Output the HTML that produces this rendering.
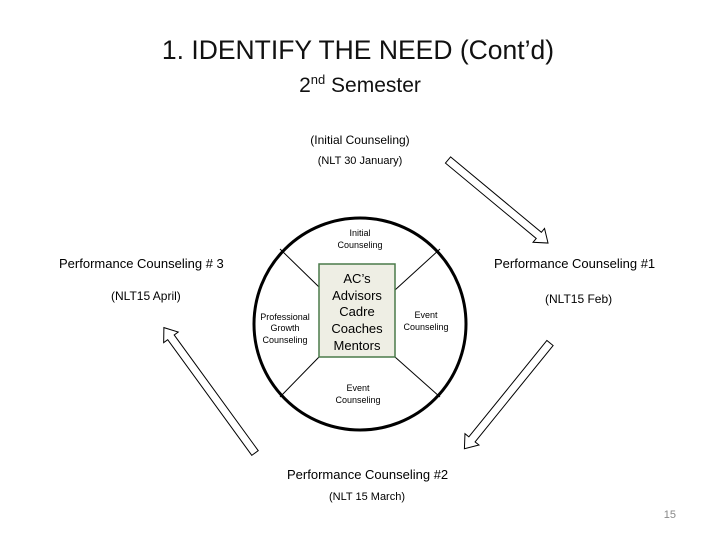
<!DOCTYPE html>
<html><head><style>
body{margin:0;background:#fff;}
svg{display:block;}
</style></head><body>
<svg width="720" height="540" xmlns="http://www.w3.org/2000/svg" font-family="Liberation Sans, sans-serif">
<rect width="720" height="540" fill="#fff"/>
<text x="358" y="59" font-size="26.5" text-anchor="middle" fill="#111">1. IDENTIFY THE NEED (Cont’d)</text>
<text x="360" y="92" font-size="21" text-anchor="middle" fill="#111">2<tspan font-size="13" dy="-8">nd</tspan><tspan dy="8"> Semester</tspan></text>
<text x="360" y="144" font-size="12" text-anchor="middle">(Initial Counseling)</text>
<text x="360" y="164" font-size="11" text-anchor="middle">(NLT 30 January)</text>
<text x="59" y="268" font-size="13">Performance Counseling # 3</text>
<text x="111" y="300" font-size="12">(NLT15 April)</text>
<text x="494" y="268" font-size="13">Performance Counseling #1</text>
<text x="545" y="303" font-size="12">(NLT15 Feb)</text>
<text x="287" y="479" font-size="13">Performance Counseling #2</text>
<text x="329" y="500" font-size="11">(NLT 15 March)</text>
<text x="676" y="518" font-size="11" fill="#888" text-anchor="end">15</text>
<circle cx="360" cy="324" r="106" fill="#fff" stroke="#000" stroke-width="3"/>
<g stroke="#000" stroke-width="1">
<line x1="280" y1="249" x2="319" y2="287"/>
<line x1="440" y1="249" x2="395" y2="290"/>
<line x1="280" y1="397" x2="319" y2="357"/>
<line x1="440" y1="397" x2="395" y2="357"/>
</g>
<rect x="319" y="264" width="76" height="93" fill="#eeeee4" stroke="#4a7a4a" stroke-width="1.5"/>
<g font-size="13" text-anchor="middle">
<text x="357" y="283">AC’s</text>
<text x="357" y="300">Advisors</text>
<text x="357" y="316">Cadre</text>
<text x="357" y="333">Coaches</text>
<text x="357" y="350">Mentors</text>
</g>
<g font-size="9" text-anchor="middle">
<text x="360" y="236">Initial</text>
<text x="360" y="248">Counseling</text>
<text x="285" y="320">Professional</text>
<text x="285" y="331">Growth</text>
<text x="285" y="343">Counseling</text>
<text x="426" y="318">Event</text>
<text x="426" y="330">Counseling</text>
<text x="358" y="391">Event</text>
<text x="358" y="403">Counseling</text>
</g>
<g fill="#fff" stroke="#000" stroke-width="1">
<path transform="translate(448,160) rotate(39.7)" d="M0,-4 L118,-4 L118,-9 L130,0 L118,9 L118,4 L0,4 Z"/>
<path transform="translate(255,453) rotate(-126)" d="M0,-4 L143,-4 L143,-9 L155,0 L143,9 L143,4 L0,4 Z"/>
<path transform="translate(550,343) rotate(129)" d="M0,-4 L124,-4 L124,-9 L136,0 L124,9 L124,4 L0,4 Z"/>
</g>
</svg>
</body></html>
